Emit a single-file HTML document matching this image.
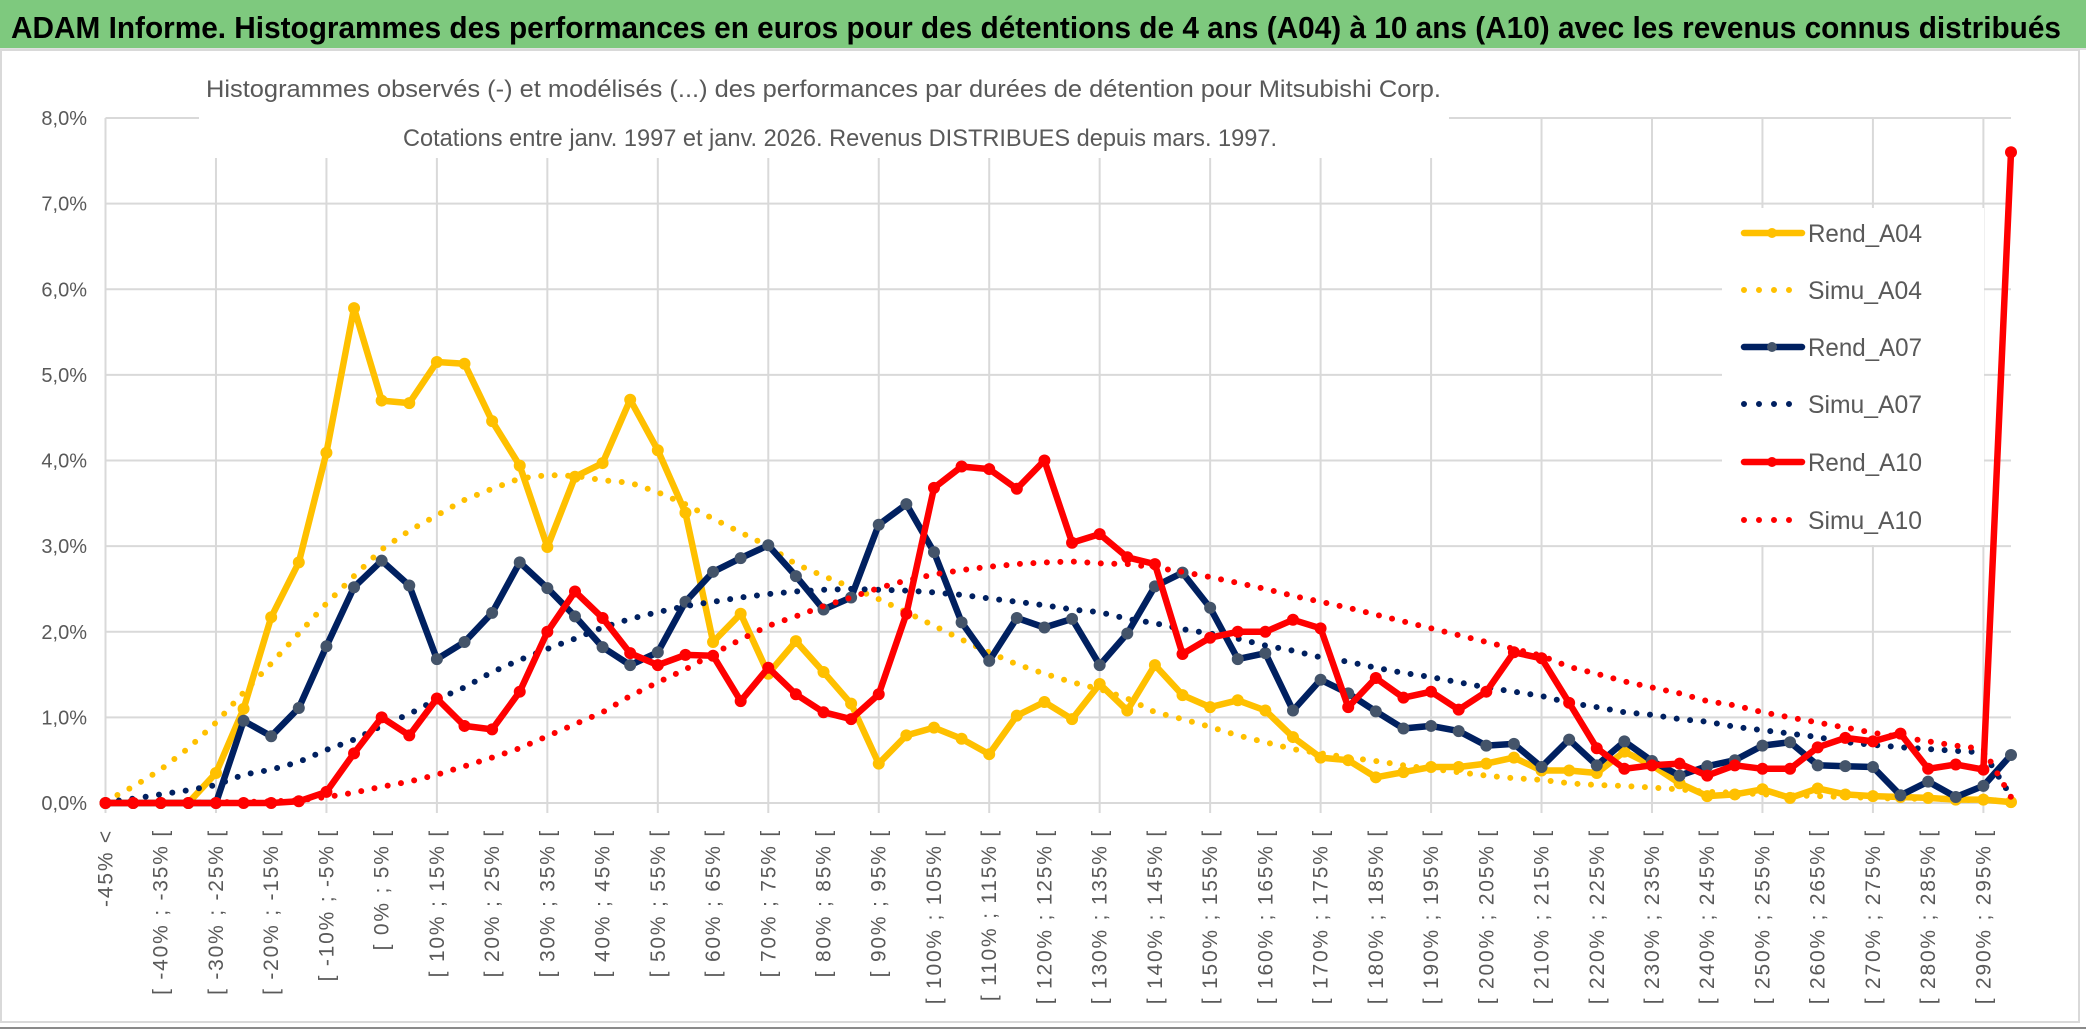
<!DOCTYPE html>
<html><head><meta charset="utf-8"><style>
html,body{margin:0;padding:0;background:#fff;}
svg{display:block;}
</style></head><body>
<svg id="chart" width="2086" height="1031" viewBox="0 0 2086 1031" xmlns="http://www.w3.org/2000/svg">
<rect x="0" y="0" width="2086" height="1031" fill="#fff"/>
<rect x="0" y="0" width="2086" height="48" fill="#7ec97e"/>
<line x1="0" y1="49" x2="2086" y2="49" stroke="#e0e0e0" stroke-width="2"/>
<rect x="1" y="50" width="2078" height="972" fill="none" stroke="#d9d9d9" stroke-width="2"/>
<line x1="0" y1="1028" x2="2086" y2="1028" stroke="#8a8a8a" stroke-width="2"/>
<text x="11" y="38" font-family="'Liberation Sans Narrow','Liberation Sans',sans-serif" font-weight="bold" font-size="31" fill="#000" textLength="2050" lengthAdjust="spacingAndGlyphs">ADAM Informe. Histogrammes des performances en euros pour des détentions de 4 ans (A04) à 10 ans (A10) avec les revenus connus distribués</text>
<g id="plot"></g>
</svg>
<script>
const categories = ["-45% <","[ -45% ; -40% [","[ -40% ; -35% [","[ -35% ; -30% [","[ -30% ; -25% [","[ -25% ; -20% [","[ -20% ; -15% [","[ -15% ; -10% [","[ -10% ; -5% [","[ -5% ; 0% [","[ 0% ; 5% [","[ 5% ; 10% [","[ 10% ; 15% [","[ 15% ; 20% [","[ 20% ; 25% [","[ 25% ; 30% [","[ 30% ; 35% [","[ 35% ; 40% [","[ 40% ; 45% [","[ 45% ; 50% [","[ 50% ; 55% [","[ 55% ; 60% [","[ 60% ; 65% [","[ 65% ; 70% [","[ 70% ; 75% [","[ 75% ; 80% [","[ 80% ; 85% [","[ 85% ; 90% [","[ 90% ; 95% [","[ 95% ; 100% [","[ 100% ; 105% [","[ 105% ; 110% [","[ 110% ; 115% [","[ 115% ; 120% [","[ 120% ; 125% [","[ 125% ; 130% [","[ 130% ; 135% [","[ 135% ; 140% [","[ 140% ; 145% [","[ 145% ; 150% [","[ 150% ; 155% [","[ 155% ; 160% [","[ 160% ; 165% [","[ 165% ; 170% [","[ 170% ; 175% [","[ 175% ; 180% [","[ 180% ; 185% [","[ 185% ; 190% [","[ 190% ; 195% [","[ 195% ; 200% [","[ 200% ; 205% [","[ 205% ; 210% [","[ 210% ; 215% [","[ 215% ; 220% [","[ 220% ; 225% [","[ 225% ; 230% [","[ 230% ; 235% [","[ 235% ; 240% [","[ 240% ; 245% [","[ 245% ; 250% [","[ 250% ; 255% [","[ 255% ; 260% [","[ 260% ; 265% [","[ 265% ; 270% [","[ 270% ; 275% [","[ 275% ; 280% [","[ 280% ; 285% [","[ 285% ; 290% [","[ 290% ; 295% [","[ 295% ; 300% ["];
const yTicks = [0,1,2,3,4,5,6,7,8];
const yTickLabels = ["0,0%","1,0%","2,0%","3,0%","4,0%","5,0%","6,0%","7,0%","8,0%"];
const rendA04 = [0,0,0,0,0.35,1.1,2.17,2.81,4.09,5.78,4.70,4.67,5.15,5.13,4.46,3.94,2.99,3.81,3.97,4.71,4.12,3.39,1.88,2.21,1.51,1.89,1.53,1.16,0.46,0.79,0.88,0.75,0.57,1.02,1.18,0.98,1.39,1.08,1.61,1.26,1.12,1.20,1.08,0.77,0.53,0.50,0.30,0.36,0.42,0.42,0.46,0.53,0.38,0.38,0.35,0.60,0.44,0.23,0.08,0.10,0.16,0.06,0.17,0.10,0.08,0.07,0.06,0.04,0.04,0.01];
const simuA04 = [0.02,0.19,0.39,0.64,0.94,1.29,1.63,1.98,2.33,2.65,2.96,3.18,3.36,3.54,3.67,3.79,3.83,3.82,3.77,3.74,3.63,3.49,3.32,3.16,3.0,2.79,2.65,2.52,2.38,2.23,2.07,1.91,1.76,1.62,1.51,1.41,1.33,1.22,1.06,0.98,0.89,0.79,0.71,0.63,0.58,0.53,0.49,0.44,0.40,0.36,0.32,0.29,0.27,0.23,0.21,0.20,0.18,0.16,0.13,0.12,0.10,0.09,0.08,0.07,0.06,0.05,0.05,0.04,0.03,0.03];
const rendA07 = [0,0,0,0,0,0.96,0.78,1.11,1.83,2.52,2.83,2.54,1.68,1.88,2.22,2.81,2.51,2.18,1.82,1.61,1.76,2.35,2.70,2.86,3.01,2.65,2.26,2.40,3.25,3.49,2.93,2.11,1.66,2.16,2.05,2.15,1.61,1.98,2.53,2.69,2.28,1.68,1.75,1.08,1.44,1.28,1.07,0.87,0.90,0.84,0.67,0.69,0.42,0.74,0.44,0.72,0.49,0.32,0.43,0.50,0.67,0.71,0.44,0.43,0.42,0.09,0.25,0.07,0.20,0.56];
const simuA07 = [0.01,0.05,0.10,0.15,0.21,0.33,0.39,0.48,0.62,0.74,0.90,1.04,1.21,1.35,1.53,1.67,1.80,1.92,2.05,2.15,2.23,2.30,2.35,2.40,2.44,2.47,2.49,2.50,2.49,2.48,2.46,2.43,2.39,2.35,2.31,2.26,2.23,2.15,2.10,2.03,1.98,1.92,1.84,1.78,1.70,1.65,1.58,1.52,1.47,1.41,1.35,1.30,1.25,1.17,1.12,1.06,1.03,0.98,0.95,0.89,0.85,0.81,0.77,0.71,0.68,0.65,0.63,0.61,0.59,0.08];
const rendA10 = [0,0,0,0,0,0,0,0.02,0.13,0.58,1.0,0.79,1.22,0.90,0.86,1.30,2.0,2.47,2.16,1.75,1.61,1.73,1.72,1.19,1.58,1.27,1.06,0.98,1.27,2.21,3.68,3.93,3.90,3.67,4.0,3.04,3.14,2.87,2.79,1.74,1.93,2.0,2.0,2.14,2.04,1.12,1.46,1.23,1.30,1.09,1.30,1.76,1.69,1.17,0.64,0.40,0.44,0.46,0.32,0.44,0.40,0.40,0.65,0.76,0.72,0.81,0.40,0.45,0.39,7.6];
const simuA10 = [0,0,0,0,0.01,0.01,0.02,0.03,0.07,0.12,0.19,0.25,0.33,0.43,0.53,0.64,0.78,0.92,1.06,1.25,1.41,1.56,1.74,1.91,2.07,2.18,2.30,2.40,2.51,2.60,2.67,2.72,2.76,2.79,2.81,2.82,2.80,2.79,2.75,2.70,2.64,2.57,2.50,2.42,2.35,2.28,2.20,2.12,2.04,1.96,1.88,1.80,1.72,1.59,1.51,1.42,1.35,1.28,1.19,1.14,1.06,1.0,0.94,0.88,0.82,0.77,0.72,0.67,0.63,0.07];
const seriesNames = ["Rend_A04","Simu_A04","Rend_A07","Simu_A07","Rend_A10","Simu_A10"];

const NS = "http://www.w3.org/2000/svg";
const svg = document.getElementById("chart");
const plot = document.getElementById("plot");
const X0 = 105.5, X1 = 2011, Y0 = 803, YMAX = 8, YTOP = 118;
function xs(i){ return X0 + (X1 - X0) * i / (categories.length - 1); }
function ys(v){ return Y0 - (Y0 - YTOP) * v / YMAX; }
function mk(tag, attrs, parent){
  const e = document.createElementNS(NS, tag);
  for (const k in attrs) e.setAttribute(k, attrs[k]);
  (parent || plot).appendChild(e);
  return e;
}
const grey = "#595959";

yTicks.forEach((t, k) => {
  const l = mk("line", {x1: X0, x2: X1, y1: ys(t), y2: ys(t), stroke: "#d9d9d9", "stroke-width": 2});
  
  
  const tx = mk("text", {x: 87, y: ys(t) + 7, "text-anchor": "end", "font-family": "'Liberation Sans',sans-serif", "font-size": 20, fill: grey});
  tx.textContent = yTickLabels[k];
  
  
});
categories.forEach((c, i) => {
  if (i % 4 === 0) {
    const l = mk("line", {x1: xs(i), x2: xs(i), y1: YTOP, y2: Y0 + 10, stroke: "#d9d9d9", "stroke-width": 2});
    
    
  }
  if (i % 2 === 0) {
    const x = xs(i) + 7, y = 829;
    const tx = mk("text", {x: x, y: y, transform: "rotate(-90 " + x + " " + y + ")", "text-anchor": "end", "font-family": "'Liberation Sans',sans-serif", "font-size": 21, "letter-spacing": "1.8", fill: grey});
    tx.textContent = c;
    
    
  }
});

const sb = mk("rect", {x: 199, y: 52, width: 1250, height: 106, fill: "#fff"});


const st1 = mk("text", {x: 206, y: 97, "font-family": "'Liberation Sans Narrow','Liberation Sans',sans-serif", "font-size": 24, fill: grey, textLength: 1235, lengthAdjust: "spacingAndGlyphs"});
st1.textContent = "Histogrammes observés (-) et modélisés (...) des performances par durées de détention pour Mitsubishi Corp.";


const st2 = mk("text", {x: 403, y: 146, "font-family": "'Liberation Sans Narrow','Liberation Sans',sans-serif", "font-size": 24, fill: grey, textLength: 874, lengthAdjust: "spacingAndGlyphs"});
st2.textContent = "Cotations entre janv. 1997 et janv. 2026. Revenus DISTRIBUES depuis mars. 1997.";



const lb = mk("rect", {x: 1722, y: 208, width: 262, height: 337, fill: "#fff"});



function ptsOf(arr){ return arr.map((v, i) => xs(i).toFixed(1) + "," + ys(v).toFixed(1)).join(" "); }
function solid(arr, color, mfill, name){
  const g = mk("g", {});
  
  
  const pl = mk("polyline", {points: ptsOf(arr), fill: "none", stroke: color, "stroke-width": 6.5, "stroke-linejoin": "round", "stroke-linecap": "round"}, g);
  
  
  arr.forEach((v, i) => {
    const c = mk("circle", {cx: xs(i), cy: ys(v), r: 5.5, fill: mfill, stroke: mfill, "stroke-width": 1}, g);
    
    
  });
}
function dotted(arr, color, name){
  const pl = mk("polyline", {points: ptsOf(arr), fill: "none", stroke: color, "stroke-width": 6, "stroke-linecap": "round", "stroke-dasharray": "0 13.5"});
  
  
}
solid(rendA04, "#FFC000", "#FFC000", "rend-a04");
dotted(simuA04, "#FFC000", "simu-a04");
solid(rendA07, "#002060", "#44546A", "rend-a07");
dotted(simuA07, "#002060", "simu-a07");
solid(rendA10, "#FF0000", "#FF0000", "rend-a10");
dotted(simuA10, "#FF0000", "simu-a10");

const legY = [233, 290, 347, 404, 462, 520];
const legStyle = [["#FFC000","#FFC000",true],["#FFC000",null,false],["#002060","#44546A",true],["#002060",null,false],["#FF0000","#FF0000",true],["#FF0000",null,false]];
seriesNames.forEach((n, k) => {
  const g = mk("g", {});
  
  
  const [col, mf, isSolid] = legStyle[k];
  const y = legY[k];
  if (isSolid) {
    mk("line", {x1: 1744, x2: 1802, y1: y, y2: y, stroke: col, "stroke-width": 6.5, "stroke-linecap": "round"}, g);
    mk("circle", {cx: 1772, cy: y, r: 5, fill: mf}, g);
  } else {
    mk("line", {x1: 1744, x2: 1800, y1: y, y2: y, stroke: col, "stroke-width": 6, "stroke-linecap": "round", "stroke-dasharray": "0 15"}, g);
  }
  const t = mk("text", {x: 1808, y: y + 9, "font-family": "'Liberation Sans Narrow','Liberation Sans',sans-serif", "font-size": 25, fill: grey, textLength: 114, lengthAdjust: "spacingAndGlyphs"}, g);
  t.textContent = n;
  
  
});
</script>
</body></html>
